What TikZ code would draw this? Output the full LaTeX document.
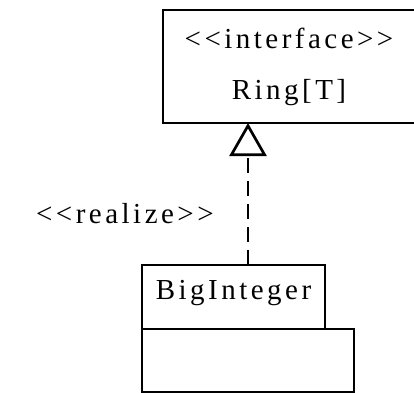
\documentclass[tikz,border=0pt]{standalone}
\usepackage{fontspec}
\setmainfont{Liberation Serif}[LetterSpace=12,Ligatures=TeXOff]
\usetikzlibrary{positioning,arrows.meta}

\begin{document}
\begin{tikzpicture}[x=1pt,y=-1pt,
  font=\fontsize{29}{51}\selectfont,
  umlbox/.style={rectangle,draw,line width=2.7pt,inner sep=0pt,outer sep=0pt},
  realize/.style={line width=2.7pt,dash pattern=on 15pt off 8pt,
    -{Triangle[open,length=33pt,width=37pt]}}]
\useasboundingbox (0,0) rectangle (414,392);
\node at (289,66.5) [umlbox,minimum width=252pt,minimum height=113pt,align=center] (ring) {<<interface>>\\Ring[T]};
\node at (233.5,297) [umlbox,minimum width=183pt,minimum height=64pt,text height=14pt,text depth=10pt] (bigint) {BigInteger};
\node [umlbox,minimum width=212pt,minimum height=63pt,below right=0pt and 0pt of bigint.south west,anchor=north west] (body) {};
\coordinate (joint) at (248,0);
\draw [realize] (bigint.north -| joint) -- node [pos=0.36,left=33pt,inner sep=0pt] (lbl) {<<realize>>} (ring.south -| joint);
\end{tikzpicture}
\end{document}
